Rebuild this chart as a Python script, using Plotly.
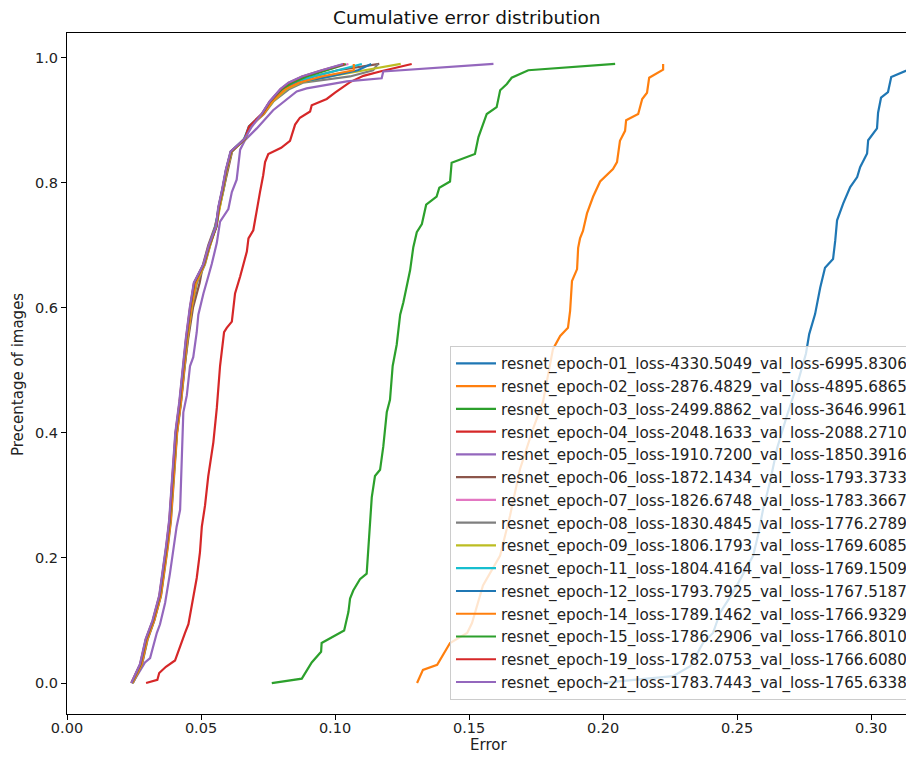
import plotly.graph_objects as go

LABELS = [
    "resnet_epoch-01_loss-4330.5049_val_loss-6995.8306",
    "resnet_epoch-02_loss-2876.4829_val_loss-4895.6865",
    "resnet_epoch-03_loss-2499.8862_val_loss-3646.9961",
    "resnet_epoch-04_loss-2048.1633_val_loss-2088.2710",
    "resnet_epoch-05_loss-1910.7200_val_loss-1850.3916",
    "resnet_epoch-06_loss-1872.1434_val_loss-1793.3733",
    "resnet_epoch-07_loss-1826.6748_val_loss-1783.3667",
    "resnet_epoch-08_loss-1830.4845_val_loss-1776.2789",
    "resnet_epoch-09_loss-1806.1793_val_loss-1769.6085",
    "resnet_epoch-11_loss-1804.4164_val_loss-1769.1509",
    "resnet_epoch-12_loss-1793.7925_val_loss-1767.5187",
    "resnet_epoch-14_loss-1789.1462_val_loss-1766.9329",
    "resnet_epoch-15_loss-1786.2906_val_loss-1766.8010",
    "resnet_epoch-19_loss-1782.0753_val_loss-1766.6080",
    "resnet_epoch-21_loss-1783.7443_val_loss-1765.6338",
]
COLORS = ["#1f77b4", "#ff7f0e", "#2ca02c", "#d62728", "#9467bd", "#8c564b",
          "#e377c2", "#7f7f7f", "#bcbd22", "#17becf",
          "#1f77b4", "#ff7f0e", "#2ca02c", "#d62728", "#9467bd"]

# epoch 01
E01_X = [0.1989, 0.2261, 0.2325, 0.2373, 0.2410, 0.2437, 0.2485, 0.2511, 0.2560, 0.2578,
         0.2597, 0.2623, 0.2649, 0.2687, 0.2724, 0.2757, 0.2769, 0.2791, 0.2810, 0.2828,
         0.2858, 0.2866, 0.2873, 0.2896, 0.2922, 0.2948, 0.2959, 0.2985, 0.2989, 0.3022,
         0.3026, 0.3037, 0.3063, 0.3075, 0.3157, 0.3350]
E01_Y = [0.000, 0.011, 0.027, 0.064, 0.080, 0.113, 0.145, 0.166, 0.204, 0.236,
         0.278, 0.322, 0.375, 0.429, 0.477, 0.527, 0.558, 0.590, 0.632, 0.664,
         0.678, 0.707, 0.740, 0.767, 0.793, 0.809, 0.825, 0.847, 0.868, 0.887,
         0.912, 0.936, 0.945, 0.969, 0.984, 0.990]
# epoch 02
E02_X = [0.1306, 0.1328, 0.1381, 0.1429, 0.1493, 0.1511, 0.1552, 0.1616, 0.1653, 0.1690,
         0.1739, 0.1776, 0.1813, 0.1840, 0.1869, 0.1877, 0.1884, 0.1903, 0.1907, 0.1914,
         0.1925, 0.1940, 0.1963, 0.1989, 0.2037, 0.2052, 0.2063, 0.2082, 0.2086, 0.2131,
         0.2146, 0.2164, 0.2172, 0.2224, 0.2224]
E02_Y = [0.000, 0.021, 0.029, 0.064, 0.080, 0.096, 0.156, 0.204, 0.268, 0.342,
         0.407, 0.450, 0.534, 0.555, 0.568, 0.595, 0.643, 0.662, 0.696, 0.711,
         0.723, 0.751, 0.778, 0.802, 0.822, 0.833, 0.867, 0.883, 0.900, 0.910,
         0.934, 0.944, 0.968, 0.981, 0.990]
# epoch 03
E03_X = [0.0764, 0.0876, 0.0913, 0.0948, 0.0950, 0.1006, 0.1034, 0.1050, 0.1056, 0.1068,
         0.1093, 0.1118, 0.1124, 0.1131, 0.1137, 0.1149, 0.1168, 0.1180, 0.1193, 0.1205,
         0.1215, 0.1230, 0.1243, 0.1255, 0.1268, 0.1280, 0.1292, 0.1305, 0.1324, 0.1340,
         0.1379, 0.1389, 0.1429, 0.1435, 0.1522, 0.1535, 0.1566, 0.1603, 0.1616, 0.1641,
         0.1659, 0.1721, 0.2045]
E03_Y = [0.000, 0.007, 0.033, 0.050, 0.064, 0.077, 0.084, 0.114, 0.135, 0.148,
         0.166, 0.175, 0.219, 0.270, 0.297, 0.331, 0.341, 0.378, 0.433, 0.453,
         0.507, 0.541, 0.589, 0.609, 0.636, 0.660, 0.697, 0.721, 0.734, 0.765,
         0.778, 0.792, 0.802, 0.832, 0.846, 0.873, 0.910, 0.921, 0.948, 0.958,
         0.968, 0.980, 0.990]
# epoch 04
E04_X = [0.0295, 0.0337, 0.0344, 0.0369, 0.0403, 0.0422, 0.0440, 0.0453, 0.0465, 0.0484,
         0.0496, 0.0503, 0.0515, 0.0527, 0.0546, 0.0559, 0.0571, 0.0577, 0.0586, 0.0596,
         0.0615, 0.0627, 0.0646, 0.0671, 0.0677, 0.0695, 0.0708, 0.0720, 0.0732, 0.0739,
         0.0751, 0.0799, 0.0832, 0.0851, 0.0869, 0.0907, 0.0913, 0.0969, 0.1000, 0.1056,
         0.1106, 0.1168, 0.1286]
E04_Y = [0.000, 0.005, 0.016, 0.026, 0.036, 0.060, 0.080, 0.094, 0.124, 0.168,
         0.209, 0.250, 0.284, 0.331, 0.385, 0.440, 0.507, 0.528, 0.561, 0.568,
         0.578, 0.623, 0.650, 0.690, 0.711, 0.724, 0.758, 0.785, 0.812, 0.833,
         0.846, 0.856, 0.867, 0.893, 0.904, 0.914, 0.924, 0.934, 0.944, 0.961,
         0.971, 0.978, 0.990]
# epoch 05
E05_X = [0.0245, 0.0291, 0.0310, 0.0335, 0.0347, 0.0366, 0.0384, 0.0397, 0.0409, 0.0422,
         0.0428, 0.0434, 0.0447, 0.0459, 0.0471, 0.0484, 0.0490, 0.0509, 0.0527, 0.0540,
         0.0559, 0.0571, 0.0602, 0.0615, 0.0633, 0.0639, 0.0646, 0.0664, 0.0708, 0.0769,
         0.0857, 0.0894, 0.0969, 0.1044, 0.1174, 0.1180, 0.1591]
E05_Y = [0.000, 0.033, 0.040, 0.080, 0.094, 0.128, 0.175, 0.216, 0.250, 0.277,
         0.351, 0.433, 0.460, 0.507, 0.521, 0.561, 0.589, 0.623, 0.650, 0.670,
         0.704, 0.738, 0.758, 0.785, 0.805, 0.833, 0.853, 0.868, 0.887, 0.916,
         0.946, 0.951, 0.957, 0.962, 0.967, 0.978, 0.990]

# the tightly packed later epochs, read at common percentage levels
CLUSTER_Y = [0.00, 0.03, 0.07, 0.10, 0.14, 0.18, 0.22, 0.26, 0.30, 0.35,
             0.40, 0.45, 0.50, 0.55, 0.60, 0.64, 0.67, 0.70, 0.73, 0.76,
             0.79, 0.82, 0.85, 0.87, 0.89, 0.91, 0.93, 0.95, 0.96, 0.97,
             0.98, 0.99]
E06_X = [0.0245, 0.0279, 0.0300, 0.0325, 0.0350, 0.0362, 0.0375, 0.0386, 0.0392, 0.0401,
         0.0410, 0.0425, 0.0437, 0.0452, 0.0470, 0.0495, 0.0508, 0.0527, 0.0552, 0.0568,
         0.0584, 0.0598, 0.0616, 0.0660, 0.0684, 0.0730, 0.0765, 0.0810, 0.0850, 0.0920,
         0.1010, 0.1165]
E07_X = [0.0242, 0.0275, 0.0296, 0.0322, 0.0347, 0.0361, 0.0373, 0.0384, 0.0390, 0.0398,
         0.0407, 0.0422, 0.0433, 0.0446, 0.0462, 0.0478, 0.0512, 0.0532, 0.0556, 0.0567,
         0.0582, 0.0595, 0.0613, 0.0662, 0.0678, 0.0726, 0.0756, 0.0798, 0.0835, 0.0885,
         0.0960, 0.1050]
E08_X = [0.0246, 0.0280, 0.0301, 0.0326, 0.0351, 0.0365, 0.0377, 0.0388, 0.0394, 0.0402,
         0.0411, 0.0426, 0.0438, 0.0450, 0.0466, 0.0485, 0.0515, 0.0535, 0.0553, 0.0569,
         0.0585, 0.0597, 0.0615, 0.0666, 0.0682, 0.0735, 0.0770, 0.0830, 0.0880, 0.1056,
         0.1142, 0.1160]
E09_X = [0.0244, 0.0277, 0.0299, 0.0324, 0.0349, 0.0363, 0.0375, 0.0385, 0.0392, 0.0400,
         0.0409, 0.0424, 0.0435, 0.0449, 0.0465, 0.0482, 0.0514, 0.0534, 0.0557, 0.0570,
         0.0583, 0.0596, 0.0614, 0.0665, 0.0683, 0.0732, 0.0768, 0.0820, 0.0870, 0.0980,
         0.1110, 0.1245]
E11_X = [0.0243, 0.0276, 0.0297, 0.0323, 0.0348, 0.0362, 0.0374, 0.0385, 0.0391, 0.0399,
         0.0408, 0.0423, 0.0434, 0.0447, 0.0461, 0.0476, 0.0510, 0.0530, 0.0555, 0.0565,
         0.0580, 0.0593, 0.0611, 0.0661, 0.0679, 0.0729, 0.0760, 0.0805, 0.0845, 0.0920,
         0.1010, 0.1100]
E12_X = [0.0242, 0.0275, 0.0296, 0.0322, 0.0347, 0.0361, 0.0373, 0.0384, 0.0390, 0.0398,
         0.0407, 0.0422, 0.0433, 0.0446, 0.0462, 0.0477, 0.0512, 0.0532, 0.0556, 0.0566,
         0.0581, 0.0594, 0.0612, 0.0663, 0.0681, 0.0731, 0.0762, 0.0810, 0.0860, 0.0981,
         0.1085, 0.1135]
E14_X = [0.0244, 0.0278, 0.0299, 0.0325, 0.0350, 0.0364, 0.0376, 0.0387, 0.0393, 0.0401,
         0.0410, 0.0425, 0.0436, 0.0448, 0.0464, 0.0480, 0.0513, 0.0533, 0.0557, 0.0568,
         0.0582, 0.0595, 0.0613, 0.0664, 0.0682, 0.0733, 0.0765, 0.0815, 0.0865, 0.0950,
         0.1070, 0.1070]
E15_X = [0.0241, 0.0274, 0.0295, 0.0321, 0.0346, 0.0360, 0.0372, 0.0383, 0.0389, 0.0397,
         0.0406, 0.0421, 0.0432, 0.0445, 0.0460, 0.0475, 0.0511, 0.0531, 0.0558, 0.0566,
         0.0581, 0.0594, 0.0612, 0.0664, 0.0680, 0.0728, 0.0758, 0.0802, 0.0840, 0.0895,
         0.0970, 0.1040]
E19_X = [0.0240, 0.0273, 0.0294, 0.0320, 0.0345, 0.0359, 0.0371, 0.0382, 0.0388, 0.0396,
         0.0405, 0.0420, 0.0431, 0.0444, 0.0459, 0.0474, 0.0510, 0.0530, 0.0557, 0.0565,
         0.0580, 0.0593, 0.0611, 0.0663, 0.0679, 0.0727, 0.0757, 0.0798, 0.0828, 0.0878,
         0.0952, 0.1035]
E21_X = [0.0240, 0.0272, 0.0293, 0.0319, 0.0344, 0.0358, 0.0370, 0.0381, 0.0387, 0.0395,
         0.0404, 0.0419, 0.0430, 0.0443, 0.0458, 0.0473, 0.0509, 0.0529, 0.0556, 0.0564,
         0.0579, 0.0592, 0.0610, 0.0662, 0.0690, 0.0726, 0.0756, 0.0796, 0.0826, 0.0876,
         0.0950, 0.1030]

X_TICKS = [0.00, 0.05, 0.10, 0.15, 0.20, 0.25, 0.30]
Y_TICKS = [0.0, 0.2, 0.4, 0.6, 0.8, 1.0]

SERIES = [
    (E01_X, E01_Y), (E02_X, E02_Y), (E03_X, E03_Y), (E04_X, E04_Y), (E05_X, E05_Y),
    (E06_X, CLUSTER_Y), (E07_X, CLUSTER_Y), (E08_X, CLUSTER_Y), (E09_X, CLUSTER_Y),
    (E11_X, CLUSTER_Y), (E12_X, CLUSTER_Y), (E14_X, CLUSTER_Y), (E15_X, CLUSTER_Y),
    (E19_X, CLUSTER_Y), (E21_X, CLUSTER_Y),
]

FONT = "DejaVu Sans"
W, H = 914, 760
OFF = 8  # page body offset of the figure inside the browser window
ML, MR, MT, MB = 59, 8, 25, 54
PW, PH = W - ML - MR, H - MT - MB


def px_x(p):
    return (p - OFF - ML) / PW


def px_y(p):
    return (H - MB - (p - OFF)) / PH


fig = go.Figure()
for i, ((xs, ys), name, col) in enumerate(zip(SERIES, LABELS, COLORS)):
    fig.add_trace(go.Scatter(x=xs, y=ys, mode="lines", name=name,
                             line=dict(color=col, width=2.2),
                             legendgroup=f"g{i}"))

fig.update_layout(
    width=W, height=H,
    margin=dict(l=ML, r=MR, t=MT, b=MB, autoexpand=False),
    paper_bgcolor="white", plot_bgcolor="white",
    font=dict(family=FONT, size=14.5, color="#222"),
    showlegend=True,
    legend=dict(x=px_x(450), y=px_y(346), xanchor="left", yanchor="top",
                bgcolor="rgba(255,255,255,0.8)", bordercolor="#cccccc", borderwidth=1,
                font=dict(family=FONT, size=15.2, color="#222"),
                tracegroupgap=0, itemwidth=40),
    xaxis=dict(range=[0, 0.316], tickvals=X_TICKS, tickformat=".2f", automargin=False,
               showgrid=False, zeroline=False, showline=True, mirror=True,
               linecolor="black", linewidth=1.2, ticks="outside", ticklen=5,
               tickcolor="black", ticklabelstandoff=-5),
    yaxis=dict(range=[-0.0495, 1.0395], tickvals=Y_TICKS, tickformat=".1f", automargin=False,
               showgrid=False, zeroline=False, showline=True,
               linecolor="black", linewidth=1.2, ticks="outside", ticklen=5,
               tickcolor="black"),
    annotations=[
        dict(text="Cumulative error distribution", xref="paper", yref="paper",
             x=px_x(467), y=px_y(17), xanchor="center", yanchor="middle",
             showarrow=False, font=dict(family=FONT, size=18.5, color="#111")),
        dict(text="Error", xref="paper", yref="paper",
             x=px_x(488), y=px_y(745), xanchor="center", yanchor="middle",
             showarrow=False, font=dict(family=FONT, size=15, color="#222")),
        dict(text="Precentage of images", xref="paper", yref="paper",
             x=px_x(18), y=px_y(375), xanchor="center", yanchor="middle",
             textangle=-90, showarrow=False, font=dict(family=FONT, size=15, color="#222")),
    ],
)

fig.write_html("out.html")
